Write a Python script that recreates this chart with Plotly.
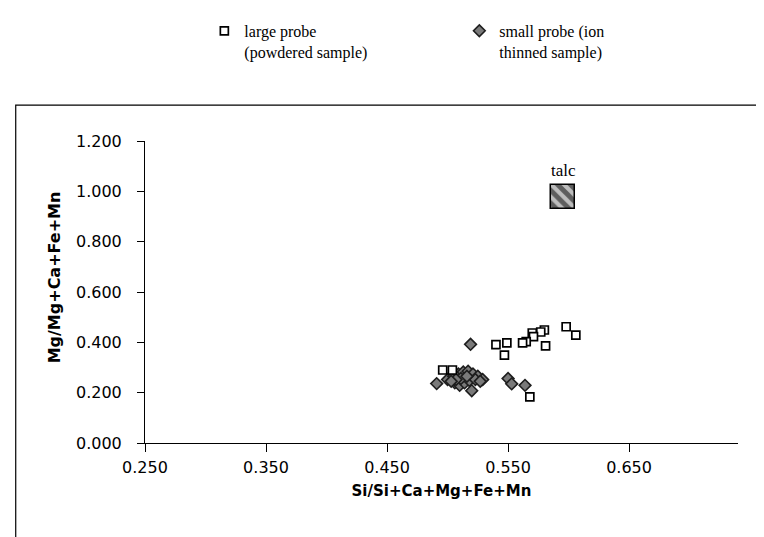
import plotly.graph_objects as go

# ---- data ----
large_x = [0.598, 0.606, 0.580, 0.577, 0.570, 0.571, 0.565, 0.562, 0.581, 0.549,
           0.540, 0.547, 0.496, 0.504, 0.568]
large_y = [0.462, 0.429, 0.449, 0.441, 0.437, 0.423, 0.403, 0.398, 0.386, 0.398,
           0.391, 0.349, 0.290, 0.290, 0.183]

small_x = [0.519, 0.491, 0.520, 0.550, 0.553, 0.564,
           0.500, 0.505, 0.509, 0.513, 0.517, 0.521, 0.525, 0.529, 0.506, 0.510,
           0.514, 0.518, 0.523, 0.511, 0.507, 0.516, 0.527, 0.503]
small_y = [0.392, 0.236, 0.208, 0.256, 0.235, 0.229,
           0.252, 0.265, 0.274, 0.282, 0.285, 0.274, 0.265, 0.252, 0.239, 0.229,
           0.239, 0.248, 0.252, 0.256, 0.252, 0.265, 0.245, 0.245]

talc_x = [0.5955]
talc_y = [0.978]
talc_label = "talc"

x_ticks = [0.25, 0.35, 0.45, 0.55, 0.65]
y_ticks = [0.0, 0.2, 0.4, 0.6, 0.8, 1.0, 1.2]

x_title = "Si/Si+Ca+Mg+Fe+Mn"
y_title = "Mg/Mg+Ca+Fe+Mn"
large_name = "large probe<br>(powdered sample)"
small_name = "small probe (ion<br>thinned sample)"

fig = go.Figure()

# talc box: hatched square drawn as a bar in data coordinates
talc_w = 0.0198
talc_h = 0.0954
fig.add_trace(go.Bar(
    x=talc_x, y=[talc_h], base=[talc_y[0] - talc_h / 2], width=[talc_w],
    marker=dict(color="white", line=dict(color="black", width=1.5),
                pattern=dict(shape="\\", fgcolor="black", bgcolor="#bdbdbd",
                             size=9, solidity=0.55)),
    showlegend=False, hoverinfo="skip"))

fig.add_trace(go.Scatter(
    x=small_x, y=small_y, mode="markers", name=small_name, legendrank=2,
    marker=dict(symbol="diamond", size=9, color="#7a7a7a",
                line=dict(color="#1e1e1e", width=1.6))))

fig.add_trace(go.Scatter(
    x=large_x, y=large_y, mode="markers", name=large_name, legendrank=1,
    marker=dict(symbol="square", size=8, color="white",
                line=dict(color="black", width=1.7))))

fig.add_annotation(x=talc_x[0], y=talc_y[0] + talc_h / 2, text=talc_label,
                   showarrow=False, yanchor="bottom", yshift=3,
                   font=dict(family="Liberation Serif", size=17, color="black"))

# y-axis title as an annotation (sits a little above the plot centre)
fig.add_annotation(xref="paper", yref="paper", x=-0.152, y=0.548,
                   text="<b>" + y_title + "</b>", textangle=-90,
                   showarrow=False, xanchor="center", yanchor="middle",
                   font=dict(family="DejaVu Sans", size=16, color="black"))

# chart-area frame (partly cut off, as in the reference)
fig.add_shape(type="rect", xref="paper", yref="paper",
              x0=-0.218, x1=1.08, y0=-0.40, y1=1.119,
              line=dict(color="black", width=1.2), fillcolor="rgba(0,0,0,0)",
              layer="below")

fig.update_layout(
    width=764, height=537,
    margin=dict(l=137, r=34, t=133, b=102),
    paper_bgcolor="white", plot_bgcolor="white",
    font=dict(family="Liberation Sans", color="black"),
    showlegend=True,
    legend=dict(orientation="h", xref="container", yref="container",
                x=0.257, y=0.989, xanchor="left", yanchor="top",
                valign="top", entrywidth=210, entrywidthmode="pixels",
                font=dict(family="Liberation Serif", size=16, color="black"),
                bgcolor="rgba(0,0,0,0)", tracegroupgap=0),
    bargap=0,
)

fig.update_xaxes(range=[0.25, 0.74], tickvals=x_ticks, tickformat=".3f",
                 showline=True, linecolor="black", linewidth=1,
                 ticks="outside", ticklen=8, tickcolor="black",
                 ticklabelstandoff=2,
                 showgrid=False, zeroline=False,
                 tickfont=dict(family="DejaVu Sans", size=16),
                 title=dict(text="<b>" + x_title + "</b>", standoff=9,
                            font=dict(family="DejaVu Sans", size=15)))
fig.update_yaxes(range=[0, 1.2], tickvals=y_ticks, tickformat=".3f",
                 showline=True, linecolor="black", linewidth=1,
                 ticks="outside", ticklen=7, tickcolor="black",
                 ticklabelstandoff=12,
                 showgrid=False, zeroline=False,
                 tickfont=dict(family="DejaVu Sans", size=16))

fig.write_html("out.html")
